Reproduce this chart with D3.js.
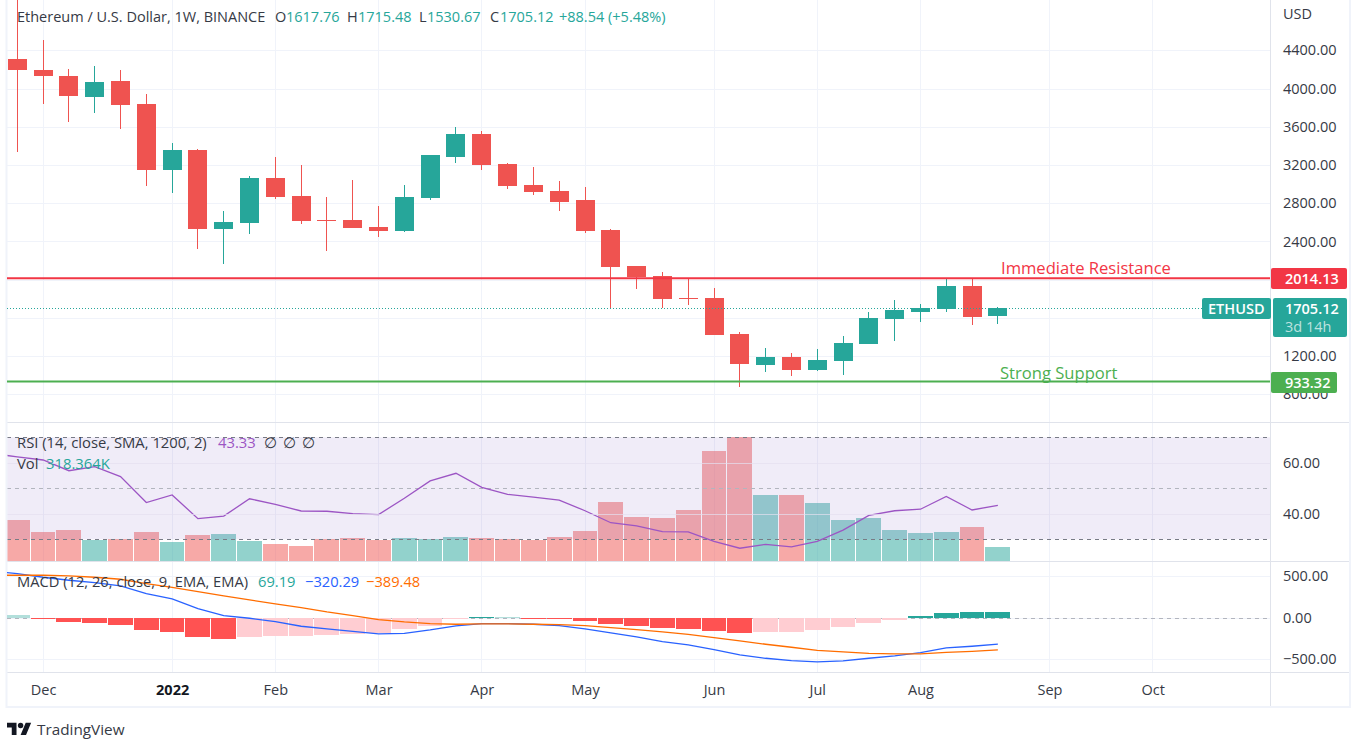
<!DOCTYPE html>
<html>
<head>
<meta charset="utf-8">
<script src="https://cdnjs.cloudflare.com/ajax/libs/d3/7.8.5/d3.min.js"></script>
<style>
  html, body { margin: 0; background: #fff; }
  svg { display: block; font-family: "Open Sans", sans-serif; }
  .axis text { font-size: 14.5px; fill: #363a45; font-family: "Open Sans", sans-serif; }
  .axis .domain, .axis line { display: none; }
</style>
</head>
<body>
<div class="main"></div>
<script>
// Bougies hebdomadaires ETH/USD
const candleOpen = [4309, 4194, 4131, 3911, 4079, 3838, 3147, 3357, 2530, 2593, 3064, 2875, 2624, 2624, 2551, 2509, 2854, 3283, 3524, 3210, 2990, 2928, 2834, 2520, 2143, 2038, 1808, 1808, 1431, 1107, 1191, 1055, 1149, 1327, 1588, 1662, 1693, 1934, 1617.76];
const candleHigh = [4950, 4508, 4204, 4236, 4194, 3943, 3430, 3367, 2718, 3085, 3283, 3200, 2865, 3043, 2771, 2990, 3304, 3597, 3556, 3221, 3179, 3032, 2970, 2530, 2143, 2080, 2017, 1913, 1452, 1285, 1232, 1274, 1410, 1662, 1787, 1745, 2021, 2021, 1715.48];
const candleLow = [3336, 3838, 3650, 3744, 3576, 2980, 2907, 2321, 2164, 2478, 2844, 2582, 2300, 2541, 2446, 2499, 2834, 3221, 3147, 2949, 2886, 2718, 2488, 1700, 1902, 1703, 1735, 1421, 877, 1034, 992, 1044, 1002, 1327, 1358, 1560, 1662, 1526, 1530.67];
const candleClose = [4194, 4131, 3922, 4068, 3828, 3147, 3357, 2530, 2603, 3064, 2865, 2614, 2617, 2541, 2509, 2865, 3304, 3524, 3200, 2980, 2917, 2813, 2509, 2132, 2028, 1798, 1801, 1421, 1117, 1191, 1055, 1159, 1337, 1599, 1682, 1703, 1934, 1609, 1705.12];

// Volume en milliers
const volume = [918, 651, 696, 474, 496, 651, 429, 585, 607, 451, 385, 340, 496, 518, 474, 518, 496, 540, 518, 496, 474, 540, 673, 1317, 984, 962, 1140, 2449, 2760, 1473, 1473, 1295, 918, 962, 696, 629, 651, 762, 318.364];

// RSI et MACD : la première valeur est la semaine hors écran, à gauche
const rsi = [63.7, 62.3, 61.1, 56.9, 58.5, 54.6, 44.4, 47.4, 38.1, 39.1, 45.9, 43.7, 41.1, 41.0, 40.1, 39.7, 46.1, 52.9, 55.9, 50.4, 47.6, 46.5, 45.4, 41.2, 36.5, 35.3, 33.0, 32.9, 29.2, 26.5, 28.0, 27.0, 29.2, 33.6, 39.4, 41.2, 41.8, 46.8, 41.5, 43.33];
const macdLine = [558, 530, 486, 450, 422, 382, 289, 225, 108, 24, -8, -48, -104, -137, -165, -197, -189, -149, -100, -72, -72, -80, -96, -137, -185, -233, -289, -329, -386, -450, -490, -518, -534, -522, -490, -462, -422, -365, -345, -320.29];
const signalLine = [510, 510, 510, 502, 486, 462, 410, 365, 313, 261, 213, 165, 120, 68, 24, -24, -52, -72, -80, -76, -76, -80, -84, -96, -120, -145, -173, -201, -241, -281, -321, -357, -394, -414, -430, -438, -438, -418, -406, -389.48];
const histogram = [40, 28, -20, -56, -68, -92, -153, -177, -237, -261, -237, -226, -224, -213, -200, -189, -141, -104, -20, 4, 2, -20, -22, -44, -80, -104, -128, -141, -165, -180, -178, -177, -153, -116, -68, -32, 16, 52, 64, 69.19];

// Axes : 2000 et 1600 gardent leur ligne de grille, l'étiquette de prix les cache
const priceTicks = [4400, 4000, 3600, 3200, 2800, 2400, 2000, 1600, 1200, 800];
const priceLabels = [4400, 4000, 3600, 3200, 2800, 2400, 1200, 800];
const rsiTicks = [60, 40];
const rsiLevels = [70, 50, 30];
const macdTicks = [500, 0, -500];
const monthDates = ['2021-11-29', '2022-01-03', '2022-01-31', '2022-02-28', '2022-03-28', '2022-04-25', '2022-05-30', '2022-06-27', '2022-07-25', '2022-08-29', '2022-09-26'];
const monthLabels = ['Dec', '2022', 'Feb', 'Mar', 'Apr', 'May', 'Jun', 'Jul', 'Aug', 'Sep', 'Oct'];

const resistance = 2014.13;
const support = 933.32;
const lastPrice = 1705.12;

// Couleurs
const up = '#26a69a';
const down = '#ef5350';
const red = '#f23645';
const green = '#4caf50';
const gridColor = '#f0f3fa';
const borderColor = '#e0e3eb';

// Paramètres de la visualisation
const width = 1363;
const height = 751;
const left = 7;
const right = 1270;
const panes = { main: [0, 422], rsi: [422, 562], macd: [562, 672] };

const weeks = d3.utcMonday.range(new Date('2021-11-15'), new Date('2022-08-16'));
const candleWeeks = weeks.slice(1);

const x = d3.scaleUtc()
  .domain([new Date('2021-11-22'), new Date('2022-09-26')])
  .range([17.3, 1152.7]);
const px = d => Math.floor(x(d));
// Largeur d'une barre : jusqu'à la barre suivante, moins 1px d'écart
const barWidth = d => px(d3.utcMonday.offset(d, 1)) - px(d) - 1;

const yPrice = d3.scaleLinear().domain([4400, 800]).range([50.3, 394.3]);
const yRsi = d3.scaleLinear().domain([70, 30]).range([437.3, 539.3]);
const yVol = d3.scaleLinear().domain([0, d3.max(volume)]).range([561.5, 437]);
const yMacd = d3.scaleLinear().domain([500, -500]).range([576.1, 659.1]);

const svg = d3.select('.main')
  .append('svg')
  .attr('width', width)
  .attr('height', height);

const defs = svg.append('defs');
Object.entries(panes).forEach(([name, [top, bottom]]) => {
  defs.append('clipPath').attr('id', 'clip-' + name)
    .append('rect')
    .attr('x', left).attr('y', top)
    .attr('width', right - left).attr('height', bottom - top);
});

const isUp = i => candleClose[i] >= candleOpen[i];

// Grille
const hLines = (values, y) => svg.append('g')
  .attr('stroke', gridColor)
  .selectAll('line').data(values).enter().append('line')
  .attr('x1', left).attr('x2', right)
  .attr('y1', d => Math.round(y(d)) + 0.5).attr('y2', d => Math.round(y(d)) + 0.5);

hLines(priceTicks, yPrice);
hLines(macdTicks, yMacd);

svg.append('g')
  .attr('stroke', gridColor)
  .selectAll('line').data(monthDates).enter().append('line')
  .attr('x1', d => px(new Date(d)) + 0.5).attr('x2', d => px(new Date(d)) + 0.5)
  .attr('y1', 0).attr('y2', panes.macd[1]);

// Volume, sous la bande RSI
const rsiPane = svg.append('g').attr('clip-path', 'url(#clip-rsi)');

rsiPane.append('g')
  .selectAll('rect').data(candleWeeks).enter().append('rect')
  .attr('shape-rendering', 'crispEdges')
  .attr('x', d => px(d) - 12)
  .attr('width', barWidth)
  .attr('y', (d, i) => yVol(volume[i]))
  .attr('height', (d, i) => yVol(0) - yVol(volume[i]))
  .attr('fill', (d, i) => isUp(i) ? up : down)
  .attr('fill-opacity', 0.5);

// Bande RSI
rsiPane.append('rect')
  .attr('x', left).attr('width', right - left)
  .attr('y', yRsi(70)).attr('height', yRsi(30) - yRsi(70))
  .attr('fill', '#9575cd').attr('fill-opacity', 0.14);

hLines(rsiTicks, yRsi).attr('stroke', '#e4e0f0').attr('stroke-opacity', 0.7);

// Bordures
svg.append('g')
  .attr('stroke', borderColor)
  .selectAll('line')
  .data([[left, 422.5, 1350, 422.5], [left, 561.5, 1350, 561.5], [left, 672.5, 1350, 672.5], [1270.5, 0, 1270.5, 706]])
  .enter().append('line')
  .attr('x1', d => d[0]).attr('y1', d => d[1]).attr('x2', d => d[2]).attr('y2', d => d[3]);

svg.append('path')
  .attr('d', 'M6.5,0V707H1350V0')
  .attr('fill', 'none').attr('stroke', gridColor).attr('stroke-width', 2);

// Bougies
const main = svg.append('g').attr('clip-path', 'url(#clip-main)');

main.append('g')
  .selectAll('rect').data(candleWeeks).enter().append('rect')
  .attr('shape-rendering', 'crispEdges')
  .attr('x', d => px(d))
  .attr('width', 1)
  .attr('y', (d, i) => yPrice(candleHigh[i]))
  .attr('height', (d, i) => yPrice(candleLow[i]) - yPrice(candleHigh[i]))
  .attr('fill', (d, i) => isUp(i) ? up : down);

main.append('g')
  .selectAll('rect').data(candleWeeks).enter().append('rect')
  .attr('shape-rendering', 'crispEdges')
  .attr('x', d => px(d) - 9)
  .attr('width', 19)
  .attr('y', (d, i) => yPrice(Math.max(candleOpen[i], candleClose[i])))
  .attr('height', (d, i) => Math.max(1, Math.abs(yPrice(candleOpen[i]) - yPrice(candleClose[i]))))
  .attr('fill', (d, i) => isUp(i) ? up : down);

// Niveaux horizontaux
main.append('line')
  .attr('x1', left).attr('x2', 1203)
  .attr('y1', Math.round(yPrice(lastPrice)) + 0.5).attr('y2', Math.round(yPrice(lastPrice)) + 0.5)
  .attr('stroke', up).attr('stroke-dasharray', '1 2');

main.append('line')
  .attr('x1', left).attr('x2', right)
  .attr('y1', yPrice(resistance)).attr('y2', yPrice(resistance))
  .attr('stroke', red).attr('stroke-width', 2);

main.append('line')
  .attr('x1', left).attr('x2', right)
  .attr('y1', yPrice(support)).attr('y2', yPrice(support))
  .attr('stroke', green).attr('stroke-width', 2);

svg.append('text').attr('x', 1001).attr('y', 274)
  .attr('fill', red).attr('font-size', 16.6).text('Immediate Resistance');
svg.append('text').attr('x', 1000).attr('y', 379)
  .attr('fill', green).attr('font-size', 16.6).text('Strong Support');

// Niveaux RSI
rsiPane.append('g')
  .selectAll('line').data(rsiLevels).enter().append('line')
  .attr('x1', left).attr('x2', right)
  .attr('y1', d => Math.round(yRsi(d)) + 0.5).attr('y2', d => Math.round(yRsi(d)) + 0.5)
  .attr('stroke', d => d === 50 ? '#b2b5be' : '#787b86')
  .attr('stroke-dasharray', '4 4');

rsiPane.append('path')
  .attr('d', d3.line().x((d, i) => x(weeks[i])).y(d => yRsi(d))(rsi))
  .attr('fill', 'none')
  .attr('stroke', '#9c55c4')
  .attr('stroke-width', 1.3);

// MACD
const macdPane = svg.append('g').attr('clip-path', 'url(#clip-macd)');

const histColor = (v, i) => {
  const rising = v > histogram[i];
  if (v >= 0) return rising ? '#26a69a' : '#b2dfdb';
  return rising ? '#ffcdd2' : '#ff5252';
};
const histData = histogram.slice(1);

macdPane.append('line')
  .attr('x1', left).attr('x2', right)
  .attr('y1', Math.round(yMacd(0)) + 0.5).attr('y2', Math.round(yMacd(0)) + 0.5)
  .attr('stroke', '#b2b5be').attr('stroke-dasharray', '4 4');

macdPane.append('g')
  .selectAll('rect').data(histData).enter().append('rect')
  .attr('shape-rendering', 'crispEdges')
  .attr('x', (d, i) => px(candleWeeks[i]) - 12)
  .attr('width', (d, i) => barWidth(candleWeeks[i]))
  .attr('y', d => Math.min(yMacd(d), yMacd(0)))
  .attr('height', d => Math.max(1, Math.abs(yMacd(d) - yMacd(0))))
  .attr('fill', histColor);

const macdPath = d3.line().x((d, i) => x(weeks[i])).y(d => yMacd(d));

macdPane.append('path')
  .attr('d', macdPath(macdLine))
  .attr('fill', 'none').attr('stroke', '#2962ff').attr('stroke-width', 1.3);

macdPane.append('path')
  .attr('d', macdPath(signalLine))
  .attr('fill', 'none').attr('stroke', '#ff6d00').attr('stroke-width', 1.3);

// Axes
const valueAxis = (scale, ticks) => d3.axisRight(scale)
  .tickValues(ticks)
  .tickSize(0)
  .tickPadding(0)
  .tickFormat(d3.format('.2f'));

svg.append('g').attr('class', 'axis').attr('transform', 'translate(1283,0)').call(valueAxis(yPrice, priceLabels));
svg.append('g').attr('class', 'axis').attr('transform', 'translate(1283,0)').call(valueAxis(yRsi, rsiTicks));
svg.append('g').attr('class', 'axis').attr('transform', 'translate(1283,0)').call(valueAxis(yMacd, macdTicks));

svg.append('g')
  .attr('class', 'axis')
  .attr('transform', 'translate(0,685)')
  .call(d3.axisBottom(x)
    .tickValues(monthDates.map(d => new Date(d)))
    .tickSize(0)
    .tickPadding(0)
    .tickFormat((d, i) => monthLabels[i]))
  .call(g => g.selectAll('text').filter((d, i) => monthLabels[i] === '2022').attr('font-weight', 'bold').style('fill', '#131722'));

svg.append('text').attr('x', 1283).attr('y', 19).attr('font-size', 14.5).attr('fill', '#363a45').text('USD');

// Étiquettes de prix
const tag = (x0, y0, w, h, color, lines) => {
  svg.append('rect')
    .attr('x', x0).attr('y', y0).attr('width', w).attr('height', h)
    .attr('rx', 2)
    .attr('fill', color);
  lines.forEach(l => svg.append('text')
    .attr('x', l.x).attr('y', l.y)
    .attr('font-size', 14.5).attr('font-weight', l.weight || 600)
    .attr('fill', '#fff').attr('fill-opacity', l.opacity || 1)
    .text(l.text));
};

tag(1271, 268, 76, 21, red, [{ x: 1285, y: 284, text: d3.format('.2f')(resistance) }]);
tag(1271, 372, 66, 21, green, [{ x: 1285, y: 388, text: d3.format('.2f')(support) }]);
tag(1202, 298, 69, 21, up, [{ x: 1208, y: 314, text: 'ETHUSD' }]);
tag(1273, 298, 74, 39, up, [
  { x: 1285, y: 314, text: d3.format('.2f')(lastPrice) },
  { x: 1285, y: 332, text: '3d 14h', opacity: 0.7, weight: 400 }
]);

// Légendes
const legend = (items, y, size) => svg.append('g')
  .attr('font-size', size)
  .selectAll('text').data(items).enter().append('text')
  .attr('x', d => d[0]).attr('y', y)
  .attr('fill', d => d[2])
  .text(d => d[1]);

const dark = '#363a45';
legend([
  [17, 'Ethereum / U.S. Dollar, 1W, BINANCE', dark],
  [275, 'O', dark], [286, '1617.76', up],
  [347, 'H', dark], [358, '1715.48', up],
  [419, 'L', dark], [427, '1530.67', up],
  [490, 'C', dark], [500, '1705.12', up],
  [559, '+88.54 (+5.48%)', up]
], 22, 14.5);

legend([
  [17, 'RSI (14, close, SMA, 1200, 2)', dark],
  [218, '43.33', '#9c55c4'],
  [264, '∅', dark], [283, '∅', dark], [302, '∅', dark]
], 448, 14.8);

legend([[17, 'Vol', dark], [46, '318.364K', up]], 469, 14.8);

legend([
  [17, 'MACD (12, 26, close, 9, EMA, EMA)', dark],
  [258, '69.19', up],
  [305, '−320.29', '#2962ff'],
  [366, '−389.48', '#ff6d00']
], 587, 14.7);

// Logo
const logo = svg.append('g').attr('transform', 'translate(7,720) scale(0.68)').attr('fill', '#131722');
logo.append('path').attr('d', 'M14 22H7V11H0V4h14v18zM28 22h-8l7.5-18h8L28 22z');
logo.append('circle').attr('cx', 20).attr('cy', 8).attr('r', 4);

svg.append('text').attr('x', 37).attr('y', 735).attr('font-size', 15.3).attr('fill', '#363a45').text('TradingView');
</script>
</body>
</html>
